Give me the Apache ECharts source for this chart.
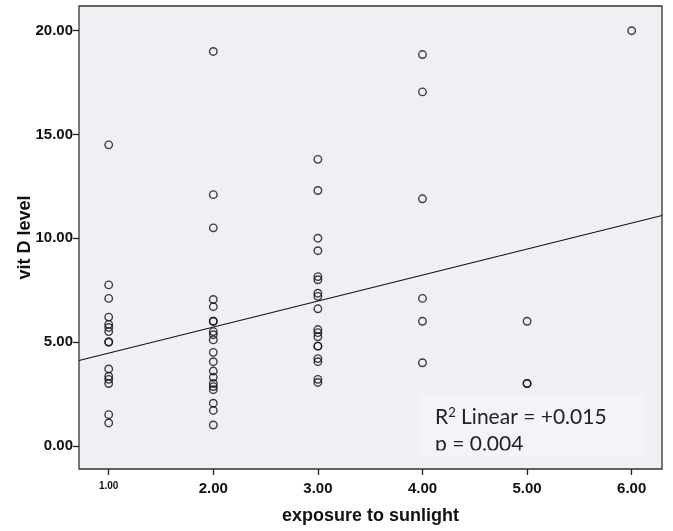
<!DOCTYPE html>
<html>
<head>
<meta charset="utf-8">
<script src="https://cdn.jsdelivr.net/npm/echarts@6/dist/echarts.min.js"></script>
<style>
html,body{margin:0;padding:0;background:#fff;}
#chart{width:673px;height:531px;}
</style>
</head>
<body>
<div id="chart"></div>
<script>
// exposure to sunlight levels (x) and vit D values per level
const exposureLevels = [1, 2, 3, 4, 5, 6];
const vitD_exp1 = [14.5, 7.75, 7.1, 6.2, 5.85, 5.7, 5.5, 5.0, 5.0, 3.7, 3.35, 3.2, 3.0, 1.5, 1.1];
const vitD_exp2 = [19.0, 12.1, 10.5, 7.05, 6.7, 6.0, 6.0, 5.5, 5.35, 5.1, 4.5, 4.05, 3.6, 3.3, 3.0, 2.85, 2.7, 2.05, 1.7, 1.0];
const vitD_exp3 = [13.8, 12.3, 10.0, 9.4, 8.15, 8.0, 7.35, 7.2, 6.6, 5.6, 5.45, 5.25, 4.8, 4.8, 4.2, 4.05, 3.2, 3.05];
const vitD_exp4 = [18.85, 17.05, 11.9, 7.1, 6.0, 4.0];
const vitD_exp5 = [6.0, 3.0, 3.0];
const vitD_exp6 = [20.0];
// linear fit: [intercept, slope]
const fitLine = [3.21, 1.253];
const xTicks = [1, 2, 3, 4, 5, 6];
const yTicks = [0, 5, 10, 15, 20];
const fitText = ['R{sup|2} Linear = +0.015', 'p = 0.004'];

const groups = [vitD_exp1, vitD_exp2, vitD_exp3, vitD_exp4, vitD_exp5, vitD_exp6];
const points = [];
groups.forEach((g, i) => g.forEach(v => points.push([exposureLevels[i], v])));

const xMin = 0.716, xMax = 6.29, yMin = -1.12, yMax = 21.19;
const linePts = [[xMin, fitLine[0] + fitLine[1] * xMin], [xMax, fitLine[0] + fitLine[1] * xMax]];

const axFont = '"Liberation Sans", Arial, sans-serif';
const plotBg = '#eff0f3';
const boxBg = '#f3f4f7';
const annFont = '"Lato", "Open Sans", sans-serif';
const chart = echarts.init(document.getElementById('chart'), null, {renderer: 'canvas'});
chart.setOption({
  animation: false,
  backgroundColor: '#ffffff',
  grid: {left: 79, top: 6, right: 11, bottom: 62, outerBoundsMode: 'none', containLabel: false,
    show: true, backgroundColor: plotBg, borderColor: '#333', borderWidth: 1.3},
  xAxis: {
    type: 'value', min: xMin, max: xMax,
    name: 'exposure to sunlight', nameLocation: 'middle', nameGap: 38, nameMoveOverlap: false,
    nameTextStyle: {fontFamily: axFont, fontWeight: 'bold', fontSize: 18, color: '#111'},
    axisLine: {show: false, onZero: false},
    splitLine: {show: false},
    axisTick: {show: true, customValues: xTicks, length: 6, lineStyle: {color: '#222', width: 1.3}},
    axisLabel: {
      customValues: xTicks, margin: 12, color: '#111', fontFamily: axFont, fontWeight: 'bold', fontSize: 15,
      formatter: v => v === 1 ? '{s|1.00}' : v.toFixed(2),
      rich: {s: {fontSize: 10, fontFamily: axFont, fontWeight: 'bold', color: '#111'}}
    }
  },
  yAxis: {
    type: 'value', min: yMin, max: yMax,
    name: 'vit D level', nameLocation: 'middle', nameGap: 45, nameMoveOverlap: false,
    nameTextStyle: {fontFamily: axFont, fontWeight: 'bold', fontSize: 18, color: '#111'},
    axisLine: {show: false, onZero: false},
    splitLine: {show: false},
    axisTick: {show: true, customValues: yTicks, length: 6, lineStyle: {color: '#222', width: 1.3}},
    axisLabel: {customValues: yTicks, margin: 6, color: '#111', fontFamily: axFont, fontWeight: 'bold', fontSize: 15,
      formatter: v => v.toFixed(2)}
  },
  series: [
    {
      type: 'scatter', data: points, symbol: 'circle', symbolSize: 7.5,
      itemStyle: {color: 'rgba(0,0,0,0)', borderColor: '#111', borderWidth: 1.4},
      z: 3
    },
    {
      type: 'line', data: linePts, symbol: 'none',
      lineStyle: {color: '#111', width: 1.1}, z: 2
    }
  ],
  graphic: [
    {type: 'rect', left: 420, top: 394, z: 10, shape: {width: 225, height: 63}, style: {fill: boxBg}},
    {type: 'text', left: 435, top: 406, z: 11,
      style: {text: fitText[0], fill: '#222', font: '21px ' + annFont,
        rich: {sup: {fontSize: 13, verticalAlign: 'top', fill: '#222', padding: [0, 0, 9, 0], fontFamily: annFont}}}},
    {type: 'text', left: 435, top: 434, z: 11,
      style: {text: fitText[1], fill: '#222', font: '21px ' + annFont}},
    {type: 'rect', left: 420, top: 450.5, z: 12, shape: {width: 225, height: 6.5}, style: {fill: boxBg}}
  ]
});
</script>
</body>
</html>
